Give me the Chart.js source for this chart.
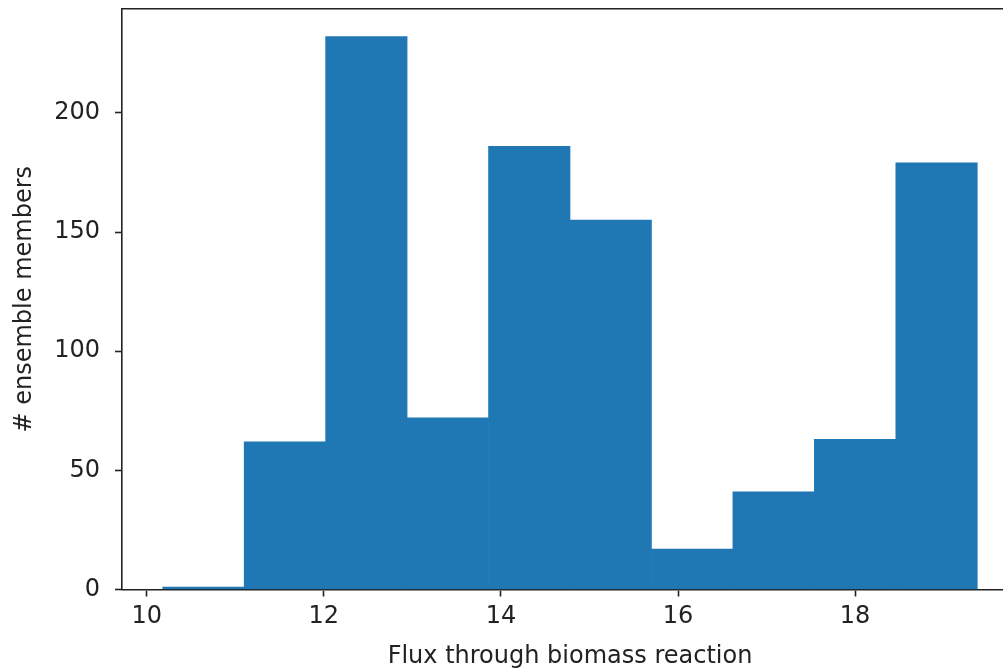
<!DOCTYPE html>
<html>
<head>
<meta charset="utf-8">
<title>Flux through biomass reaction</title>
<script src="https://cdn.jsdelivr.net/npm/chart.js@4/dist/chart.umd.min.js"></script>
<style>
    html, body { margin: 0; padding: 0; background: #fff; overflow: hidden; }
    /* the original figure is cut off on the right, so the canvas is a bit wider than the window */
    #wrap { width: 1018px; height: 671px; }
</style>
</head>
<body>
<div id="wrap"><canvas id="hist"></canvas></div>
<script>
// --- DATA ---
const binEdges = [10.18, 11.10, 12.02, 12.94, 13.86, 14.78, 15.70, 16.62, 17.54, 18.46, 19.38];
const counts = [1, 62, 232, 72, 186, 155, 17, 41, 63, 179];
const xTicks = [10, 12, 14, 16, 18];
const yTicks = [0, 50, 100, 150, 200];

const xLabel = 'Flux through biomass reaction';
const yLabel = '# ensemble members';

// --- helpers ---
const binCenters = counts.map((_, i) => (binEdges[i] + binEdges[i + 1]) / 2);
const span = binEdges[binEdges.length - 1] - binEdges[0];
const xMin = binEdges[0] - span * 0.05;
const xMax = binEdges[binEdges.length - 1] + span * 0.05;
const yMax = Math.max(...counts) * 1.05;

const ink = '#222';
const font = { family: 'DejaVu Sans', size: 24 };
const tickMarks = { display: true, offset: false, drawOnChartArea: false, drawTicks: true, tickLength: 7, tickWidth: 1.6, color: ink };
const spine = { display: true, color: ink, width: 1.6 };

Chart.defaults.animation = false;
Chart.defaults.font.family = 'DejaVu Sans';
Chart.defaults.color = ink;

new Chart(document.getElementById('hist'), {
    type: 'bar',
    data: {
        datasets: [{
            data: binCenters.map((c, i) => ({ x: c, y: counts[i] })),
            backgroundColor: '#1f77b4',
            borderWidth: 0,
            barPercentage: 1,
            categoryPercentage: 1
        }]
    },
    options: {
        responsive: true,
        maintainAspectRatio: false,
        layout: { padding: 0 },
        plugins: { legend: { display: false }, tooltip: { enabled: false } },
        scales: {
            x: {
                type: 'linear',
                position: 'bottom',
                offset: false,
                min: xMin,
                max: xMax,
                afterBuildTicks: (axis) => { axis.ticks = xTicks.map(v => ({ value: v })); },
                afterFit: (axis) => { axis.height = 81.5; axis.paddingLeft = 0; axis.paddingRight = 0; },
                grid: tickMarks,
                border: spine,
                ticks: { font, color: ink, padding: 6, maxRotation: 0 },
                title: { display: true, text: xLabel, font, color: ink, padding: { top: 0, bottom: 0 } }
            },
            xTop: {
                type: 'linear',
                position: 'top',
                min: xMin,
                max: xMax,
                afterFit: (axis) => { axis.height = 9; },
                grid: { display: false },
                border: spine,
                ticks: { display: false }
            },
            y: {
                type: 'linear',
                position: 'left',
                min: 0,
                max: yMax,
                afterBuildTicks: (axis) => { axis.ticks = yTicks.map(v => ({ value: v })); },
                // labels sit well inside the axis, so no extra room above or below
                afterFit: (axis) => { axis.width = 122; axis.paddingTop = 0; axis.paddingBottom = 0; },
                grid: tickMarks,
                border: spine,
                ticks: { font, color: ink, padding: 15 },
                title: { display: true, text: yLabel, font, color: ink, padding: { top: 10, bottom: 0 } }
            }
        }
    }
});
</script>
</body>
</html>
